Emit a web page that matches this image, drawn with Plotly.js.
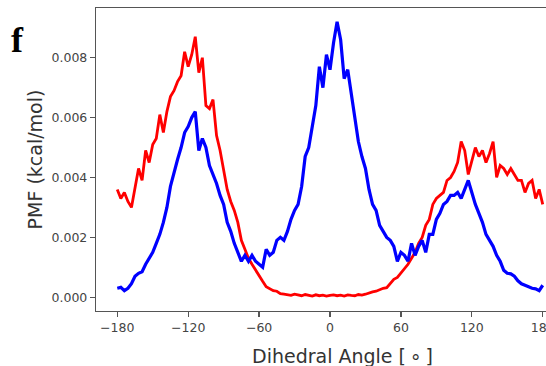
<!DOCTYPE html>
<html>
<head>
<meta charset="utf-8">
<script src="https://cdn.plot.ly/plotly-3.0.1.min.js"></script>
<style>
html,body{margin:0;padding:0;overflow:hidden;background:#fff;}
#chart{width:570px;height:366px;}
</style>
</head>
<body>
<div id="chart"></div>
<script>
const angles = [-180,-177,-174,-171,-168,-165,-162,-159,-156,-153,-150,-147,-144,-141,-138,-135,-132,-129,-126,-123,-120,-117,-114,-111,-108,-105,-102,-99,-96,-93,-90,-87,-84,-81,-78,-75,-72,-69,-66,-63,-60,-57,-54,-51,-48,-45,-42,-39,-36,-33,-30,-27,-24,-21,-18,-15,-12,-9,-6,-3,0,3,6,9,12,15,18,21,24,27,30,33,36,39,42,45,48,51,54,57,60,63,66,69,72,75,78,81,84,87,90,93,96,99,102,105,108,111,114,117,120,123,126,129,132,135,138,141,144,147,150,153,156,159,162,165,168,171,174,177,180];

const pmfRed = [0.0036,0.0033,0.0035,0.0032,0.0030,0.0037,0.0043,0.0039,0.0049,0.0045,
0.0051,0.0053,0.0061,0.0055,0.0062,0.0067,0.0069,0.0072,0.0074,0.0082,
0.0077,0.0081,0.0087,0.0075,0.0080,0.0064,0.0063,0.0066,0.0054,0.0049,
0.0042,0.0036,0.0032,0.0029,0.0025,0.0019,0.0016,0.0013,0.0011,0.0009,
0.0007,0.00053,0.00035,0.00028,0.00022,0.0002,0.00012,0.0001,0.00008,0.00006,
0.0001,0.00007,0.00005,0.00009,0.00006,0.00004,0.00008,0.00005,0.00007,0.00004,
0.00006,0.00008,0.00005,0.00007,0.00004,0.00008,0.00006,0.00005,0.00009,0.00007,
0.0001,0.00015,0.00018,0.0002,0.00025,0.0003,0.00032,0.00045,0.0006,0.00066,
0.0008,0.00095,0.0011,0.0013,0.0015,0.0018,0.0020,0.0024,0.0026,0.0031,
0.0033,0.0034,0.0035,0.0039,0.0040,0.0042,0.0045,0.0052,0.0049,0.0041,
0.0046,0.0050,0.0047,0.0049,0.0045,0.0048,0.0052,0.0040,0.0044,0.0043,
0.0041,0.0043,0.0041,0.0039,0.0039,0.0035,0.0038,0.0039,0.0033,0.0036,0.0031];

const pmfBlue = [0.0003,0.00033,0.00022,0.0003,0.00045,0.0007,0.0008,0.00085,0.0011,0.0013,
0.0015,0.0018,0.0021,0.0025,0.0030,0.0037,0.0042,0.0046,0.0050,0.0055,
0.0057,0.0060,0.0062,0.0049,0.0053,0.0050,0.0044,0.0041,0.0038,0.0034,
0.0031,0.0025,0.0022,0.0018,0.0015,0.0012,0.0014,0.0012,0.0014,0.0012,
0.0011,0.0010,0.0016,0.0014,0.0015,0.0019,0.0020,0.0019,0.0022,0.0026,
0.0029,0.0031,0.0037,0.0047,0.0050,0.0057,0.0064,0.0077,0.0070,0.0081,
0.0076,0.0085,0.0092,0.0086,0.0073,0.0076,0.0068,0.0060,0.0052,0.0047,
0.0043,0.0036,0.0031,0.0029,0.0024,0.0022,0.0020,0.0019,0.0017,0.0012,
0.0015,0.0014,0.0012,0.0018,0.0014,0.0017,0.0019,0.0015,0.0021,0.0021,
0.0026,0.0028,0.0031,0.0032,0.0034,0.0034,0.0035,0.0033,0.0036,0.0039,
0.0035,0.0031,0.0028,0.0025,0.0021,0.0019,0.0017,0.0014,0.0012,0.0009,
0.0008,0.00078,0.0007,0.00055,0.00045,0.0004,0.00035,0.0003,0.00028,0.00022,0.0004];

const xTickVals = [-180,-120,-60,0,60,120,180];
const xTickText = ['\u2212180','\u2212120','\u221260','0','60','120','180'];
const yTickVals = [0,0.002,0.004,0.006,0.008];
const yTickText = ['0.000','0.002','0.004','0.006','0.008'];

const traces = [
  {x: angles, y: pmfRed, type:'scatter', mode:'lines', line:{color:'#ff0000', width:2.8}, showlegend:false},
  {x: angles, y: pmfBlue, type:'scatter', mode:'lines', line:{color:'#0000ff', width:3.2}, showlegend:false}
];

const axisCommon = {
  showgrid:false, zeroline:false, showline:true, mirror:true,
  linecolor:'#555', linewidth:1.2,
  ticks:'outside', ticklen:5, tickwidth:1.2, tickcolor:'#555',
  tickfont:{family:'DejaVu Sans', size:12.5, color:'#444'}
};

const layout = {
  width:570, height:366,
  margin:{l:96, r:6, t:8, b:55},
  paper_bgcolor:'#fff', plot_bgcolor:'#fff',
  xaxis: Object.assign({}, axisCommon, {
    range:[-198,198], tickmode:'array', tickvals:xTickVals, ticktext:xTickText,
    title:{text:''}
  }),
  yaxis: Object.assign({}, axisCommon, {
    range:[-0.00046,0.00966], tickmode:'array', tickvals:yTickVals, ticktext:yTickText,
    title:{text:'PMF (kcal/mol)', font:{family:'DejaVu Sans', size:19, color:'#333'}, standoff:3}
  }),
  annotations:[
    {text:'Dihedral Angle [\u2009\u2218\u2009]', xref:'paper', yref:'paper', x:0.527, y:-0.1485,
     xanchor:'center', yanchor:'middle', showarrow:false,
     font:{family:'DejaVu Sans', size:19, color:'#333'}},
    {text:'<b>f</b>', xref:'paper', yref:'paper', x:-0.1688, y:0.893,
     xanchor:'center', yanchor:'middle', showarrow:false,
     font:{family:'Liberation Serif', size:36, color:'#000'}}
  ]
};

Plotly.newPlot('chart', traces, layout, {displayModeBar:false, staticPlot:true});
</script>
</body>
</html>
